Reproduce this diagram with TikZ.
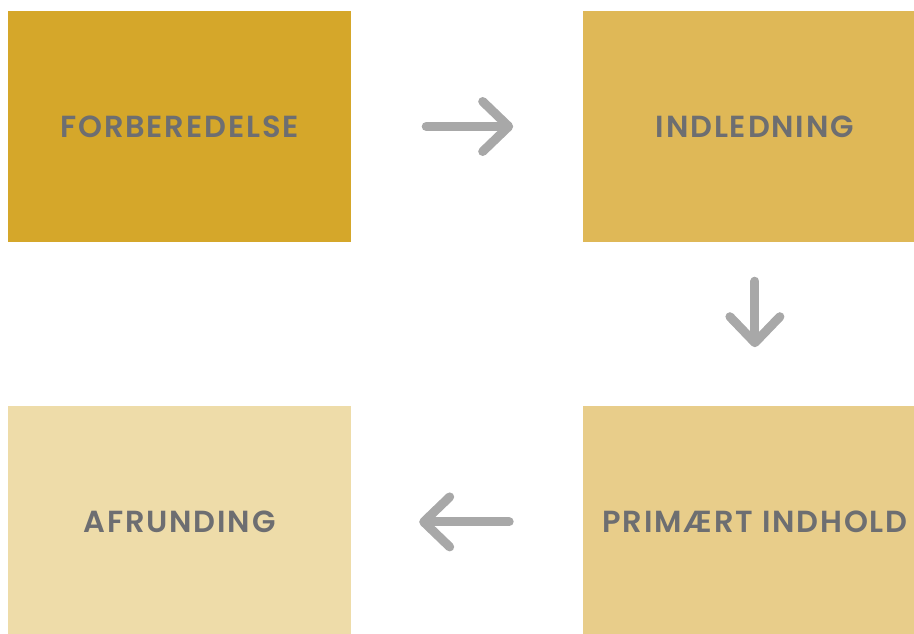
\documentclass[tikz,border=0pt]{standalone}
\usepackage{fontspec}
\newfontfamily\fasefont{Poppins SemiBold}[LetterSpace=6]
\usepackage{tikz}
\usetikzlibrary{positioning}
\usetikzlibrary {arrows.meta}

\definecolor{stepA}{HTML}{D5A72A}
\definecolor{stepB}{HTML}{DFB857}
\definecolor{stepC}{HTML}{E8CD8A}
\definecolor{stepD}{HTML}{EEDCA9}
\definecolor{txtgray}{HTML}{6D6E71}
\definecolor{arrgray}{HTML}{A8A8A8}

\begin{document}
\begin{tikzpicture}[x=1pt,y=-1pt,
    fase/.style={minimum width=343pt,minimum height=231pt,inner sep=0pt,
        text=txtgray,font=\fasefont\fontsize{30.5}{33}\selectfont},
    flow/.style={draw=arrgray,line width=9pt,line cap=round,
        -{Straight Barb[length=26pt,width=50pt,round]}}]
    \useasboundingbox (0,0) rectangle (914,633);
    %% felter
    \node[fase,fill=stepA] (fb) at (179.5,126.5) {FORBEREDELSE};
    \node[fase,fill=stepB,right=232pt of fb] (ind) {INDLEDNING};
    \node[fase,fill=stepC,below=164pt of ind] (prim) {PRIMÆRT INDHOLD};
    \node[fase,fill=stepD,left=232pt of prim] (afr) {AFRUNDING};
    %% pile
    \draw[flow] ([xshift=75pt]fb.east) -- ([xshift=-70pt]ind.west);
    \draw[flow] ([yshift=-39pt]ind.south) -- ([yshift=59pt]prim.north);
    \draw[flow] ([xshift=-74pt]prim.west) -- ([xshift=68pt]afr.east);
\end{tikzpicture}
\end{document}
